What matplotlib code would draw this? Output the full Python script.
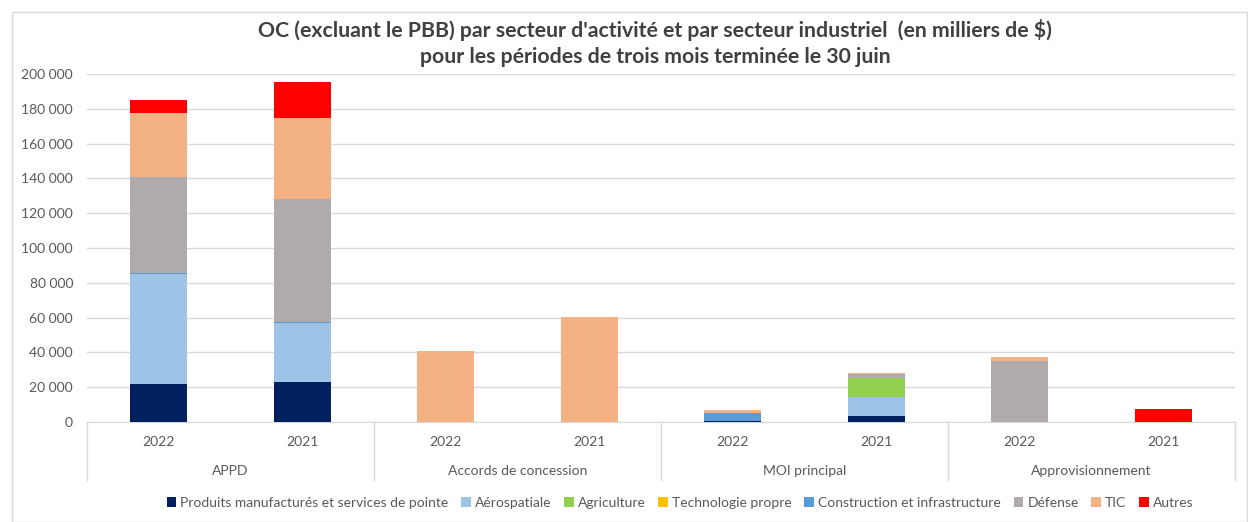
import matplotlib
matplotlib.use("Agg")
import matplotlib.pyplot as plt
import matplotlib.transforms as mtransforms
from matplotlib.patches import Patch, Rectangle
import numpy as np

plt.rcParams['font.family'] = ['Lato', 'DejaVu Sans']

# ── données (milliers de $) ─────────────────────────
years = ["2022", "2021", "2022", "2021", "2022", "2021", "2022", "2021"]
groups = ["APPD", "Accords de concession", "MOI principal", "Approvisionnement"]

series_names = ["Produits manufacturés et services de pointe", "Aérospatiale", "Agriculture",
                "Technologie propre", "Construction et infrastructure", "Défense", "TIC", "Autres"]
produits     = [21900, 22800, 0, 0, 800, 3500, 0, 0]
aerospatiale = [63400, 34200, 0, 0, 0, 11000, 0, 0]
agriculture  = [0, 0, 0, 0, 0, 11000, 0, 0]
techno       = [0, 0, 0, 0, 0, 0, 0, 0]
construction = [600, 600, 0, 0, 4600, 0, 0, 0]
defense      = [54900, 70400, 0, 0, 0, 2100, 34800, 0]
tic          = [36600, 47000, 41000, 60300, 1500, 800, 2700, 0]
autres       = [7600, 20500, 0, 0, 0, 0, 0, 7500]
series = [produits, aerospatiale, agriculture, techno, construction, defense, tic, autres]
colors = ["#002060", "#9DC3E6", "#92D050", "#FFC000", "#5B9BD5", "#AFABAB", "#F4B183", "#FF0000"]

txt = "#595959"
W, H = 1248, 522
fig = plt.figure(figsize=(W / 100, H / 100), dpi=100)
ax = fig.add_axes([87 / W, (H - 422) / H, (1235 - 87) / W, (422 - 74) / H])

x = np.arange(len(years))
bottom = np.zeros(len(years))
for name, vals, c in zip(series_names, series, colors):
    ax.bar(x, vals, 0.4, bottom=bottom, color=c, label=name, zorder=3)
    bottom += np.array(vals)

ax.set_xlim(-0.5, 7.5)
ax.set_ylim(0, 200000)
ax.set_yticks(np.arange(0, 200001, 20000))
ax.set_yticklabels([f"{v:,}".replace(",", " ") for v in range(0, 200001, 20000)],
                   fontsize=10, color=txt)
ax.yaxis.grid(True, color="#D9D9D9", linewidth=1, zorder=0)
ax.tick_params(axis='y', length=0, pad=10)
ax.set_xticks(x)
ax.set_xticklabels([])
ax.tick_params(axis='x', length=0)
for s in ["top", "right", "left"]:
    ax.spines[s].set_visible(False)
ax.spines["bottom"].set_color("#D9D9D9")

# axe de catégories à deux niveaux
tr = mtransforms.blended_transform_factory(ax.transData, ax.transAxes)
for xi, y in zip(x, years):
    ax.text(xi, -0.058, y, transform=tr, ha='center', va='center', fontsize=10, color=txt)
for gi, g in enumerate(groups):
    ax.text(2 * gi + 0.5, -0.141, g, transform=tr, ha='center', va='center', fontsize=10, color=txt)
for sx in [-0.5, 1.5, 3.5, 5.5, 7.5]:
    ax.plot([sx, sx], [0, -0.168], transform=tr, color="#D9D9D9", linewidth=1, clip_on=False)

fig.text(655 / W, 1 - 30 / H, "OC (excluant le PBB) par secteur d'activité et par secteur industriel  (en milliers de $)",
         ha='center', va='center', fontsize=15.3, fontweight='bold', color="#404040")
fig.text(655 / W, 1 - 57 / H, "pour les périodes de trois mois terminée le 30 juin",
         ha='center', va='center', fontsize=15.3, fontweight='bold', color="#404040")

handles = [Patch(facecolor=c, label=n) for n, c in zip(series_names, colors)]
fig.legend(handles=handles, loc='center', bbox_to_anchor=(680 / W, (H - 503) / H), ncol=8,
           frameon=False, fontsize=10, handlelength=0.7, handleheight=0.7,
           handletextpad=0.3, columnspacing=0.9, labelcolor=txt)

fig.patches.append(Rectangle((12 / W, 0.5 / H), (W - 13) / W, (H - 12) / H,
                             transform=fig.transFigure, fill=False, edgecolor="#D9D9D9", linewidth=1))

fig.savefig("out.png", dpi=100, facecolor='white')
